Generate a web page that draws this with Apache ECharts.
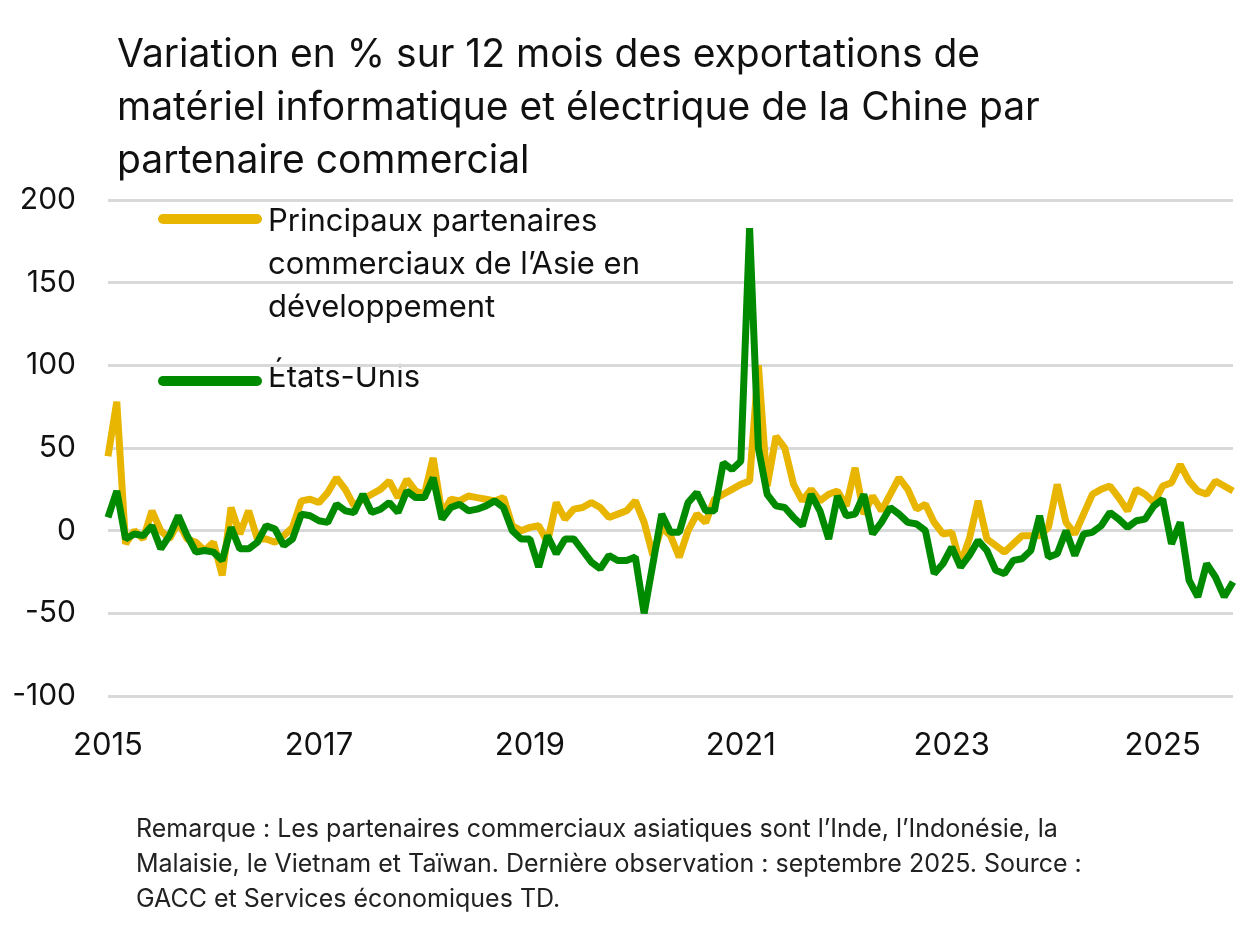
<!DOCTYPE html>
<html><head><meta charset="utf-8">
<script src="https://cdn.jsdelivr.net/npm/echarts@6/dist/echarts.min.js"></script>
<style>html,body{margin:0;padding:0;background:#fff}#c{width:1240px;height:925px}</style>
</head><body><div id="c"></div>
<script>
const years = [2015,2016,2017,2018,2019,2020,2021,2022,2023,2024,2025];
const asia = [
45,78,-8,0,-5,12,0,-5,5,-5,-7,-12,
-7,-27,14,-2,12,-5,-5,-7,-3,2,18,19,
17,23,32,25,15,19,22,25,30,20,31,24,
22,44,10,19,18,21,20,19,18,20,3,0,
2,3,-7,17,7,13,14,17,14,8,10,12,
18,5,-15,2,-3,-16,0,10,5,19,22,25,
28,30,100,27,57,50,28,18,25,18,22,24,
15,38,10,21,12,22,32,25,13,16,5,-2,
-1,-20,-5,18,-5,-9,-13,-8,-3,-3,-3,2,
28,5,-2,10,22,25,27,20,12,25,22,17,
27,29,40,30,24,22,30,27,24];
const usa = [
8,24,-5,-2,-3,3,-11,-3,9,-3,-13,-12,
-13,-18,2,-11,-11,-7,3,1,-9,-5,10,9,
6,5,16,12,11,22,11,13,17,11,24,20,
20,32,7,14,16,12,13,15,18,14,0,-5,
-5,-22,-3,-14,-5,-5,-12,-19,-23,-15,-18,-18,
-16,-50,-20,10,-1,-1,17,23,12,12,41,37,
42,183,50,22,15,14,8,3,22,12,-5,21,
9,10,22,-2,5,14,10,5,4,0,-26,-20,
-10,-22,-15,-6,-12,-24,-26,-18,-17,-12,9,-16,
-14,0,-15,-2,-1,3,11,7,2,6,7,15,
19,-8,5,-30,-40,-20,-28,-40,-31];
const yTicks = [-100,-50,0,50,100,150,200];
const months = [];
for (let i=0;i<usa.length;i++){ months.push(String(2015+Math.floor(i/12))+'-'+String(i%12+1).padStart(2,'0')); }
const GOLD='#e8b500', GREEN='#008a00';
const F='Inter, Roboto, sans-serif';
const chart = echarts.init(document.getElementById('c'));
chart.setOption({
  animation:false,
  textStyle:{fontFamily:F},
  title:{text:'Variation en % sur 12 mois des exportations de\nmatériel informatique et électrique de la Chine par\npartenaire commercial',
    left:112, top:24, textStyle:{fontFamily:F,fontSize:39,fontWeight:'normal',color:'#111',lineHeight:53}},
  grid:{left:108,right:7,top:200,bottom:229,containLabel:false},
  xAxis:{type:'category',data:months,boundaryGap:false,
    axisLine:{show:false},axisTick:{show:false},
    axisLabel:{interval:(i)=>i%24===0,formatter:v=>v.slice(0,4),fontSize:31,color:'#111',margin:34,fontFamily:F}},
  yAxis:{type:'value',min:-100,max:200,interval:50,
    axisLabel:{fontSize:30,color:'#111',margin:32,fontFamily:F,formatter:v=>yTicks.includes(v)?String(v):''},
    splitLine:{lineStyle:{color:'#d9d9d9',width:3}},axisLine:{show:false},axisTick:{show:false}},
  series:[
    {name:'Principaux partenaires commerciaux de l’Asie en développement',type:'line',data:asia,symbol:'none',lineStyle:{color:GOLD,width:7},itemStyle:{color:GOLD}},
    {name:'États-Unis',type:'line',data:usa,symbol:'none',lineStyle:{color:GREEN,width:7},itemStyle:{color:GREEN}}
  ],
  graphic:[
    {type:'line',shape:{x1:163,y1:219,x2:257,y2:219},style:{stroke:GOLD,lineWidth:10,lineCap:'round'}},
    {type:'text',left:268,top:200,style:{text:'Principaux partenaires\ncommerciaux de l’Asie en\ndéveloppement',font:'31px '+F,fill:'#111',lineHeight:43}},
    {type:'line',shape:{x1:163,y1:381,x2:257,y2:381},style:{stroke:GREEN,lineWidth:10,lineCap:'round'}},
    {type:'text',left:268,top:362,style:{text:'États-Unis',font:'31px '+F,fill:'#111'}},
    {type:'text',left:136,top:812,style:{text:'Remarque : Les partenaires commerciaux asiatiques sont l’Inde, l’Indonésie, la\nMalaisie, le Vietnam et Taïwan. Dernière observation : septembre 2025. Source :\nGACC et Services économiques TD.',font:'25px '+F,fill:'#222',lineHeight:35}}
  ]
});
</script></body></html>
